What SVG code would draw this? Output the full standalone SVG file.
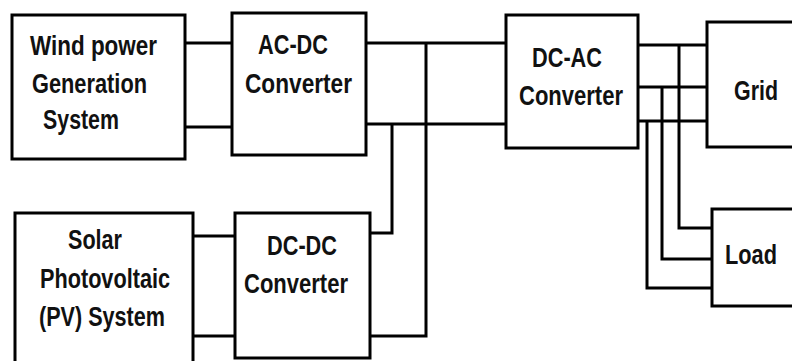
<svg xmlns="http://www.w3.org/2000/svg" width="792" height="361" viewBox="0 0 792 361">
<style>
.box{fill:#fff;stroke:#000;stroke-width:3}
.ln{fill:none;stroke:#000;stroke-width:3;stroke-linejoin:miter}
.t{font-family:"Liberation Sans",Arial,sans-serif;font-weight:bold;font-size:27.5px;fill:#111}
</style>
<rect width="792" height="361" fill="#fff"/>
<g id="connectors">
<path class="ln" d="M185,43H232M185,127H232"/>
<path class="ln" d="M366,43H506M366,124H506"/>
<path class="ln" d="M426,43V336H370M392,124V233H370"/>
<path class="ln" d="M193,236H235M193,336H235"/>
<path class="ln" d="M638,45H707M638,87H707M638,121H707"/>
<path class="ln" d="M679,45V228H712M662,87V259H712M647,121V288H712"/>
</g>
<g id="wind">
<rect class="box" x="12" y="15" width="173" height="144"/>
<text class="t" x="30" y="55" textLength="127" lengthAdjust="spacingAndGlyphs">Wind power</text>
<text class="t" x="32" y="93" textLength="115" lengthAdjust="spacingAndGlyphs">Generation</text>
<text class="t" x="43" y="129" textLength="76" lengthAdjust="spacingAndGlyphs">System</text>
</g>
<g id="acdc">
<rect class="box" x="232" y="13" width="134" height="142"/>
<text class="t" x="258" y="54" textLength="70" lengthAdjust="spacingAndGlyphs">AC-DC</text>
<text class="t" x="245" y="93" textLength="107" lengthAdjust="spacingAndGlyphs">Converter</text>
</g>
<g id="dcac">
<rect class="box" x="506" y="15" width="132" height="133"/>
<text class="t" x="532" y="67" textLength="70" lengthAdjust="spacingAndGlyphs">DC-AC</text>
<text class="t" x="519" y="105" textLength="104" lengthAdjust="spacingAndGlyphs">Converter</text>
</g>
<g id="grid">
<rect class="box" x="707" y="22" width="100" height="125"/>
<text class="t" x="734" y="100" textLength="44" lengthAdjust="spacingAndGlyphs">Grid</text>
</g>
<g id="load">
<rect class="box" x="712" y="209" width="100" height="97"/>
<text class="t" x="725" y="264" textLength="52" lengthAdjust="spacingAndGlyphs">Load</text>
</g>
<g id="solar">
<rect class="box" x="15" y="213" width="178" height="160"/>
<text class="t" x="68" y="249" textLength="54" lengthAdjust="spacingAndGlyphs">Solar</text>
<text class="t" x="40" y="288" textLength="130" lengthAdjust="spacingAndGlyphs">Photovoltaic</text>
<text class="t" x="39" y="326" textLength="126" lengthAdjust="spacingAndGlyphs">(PV) System</text>
</g>
<g id="dcdc">
<rect class="box" x="235" y="213" width="135" height="145"/>
<text class="t" x="267" y="255" textLength="70" lengthAdjust="spacingAndGlyphs">DC-DC</text>
<text class="t" x="244" y="293" textLength="104" lengthAdjust="spacingAndGlyphs">Converter</text>
</g>
</svg>
